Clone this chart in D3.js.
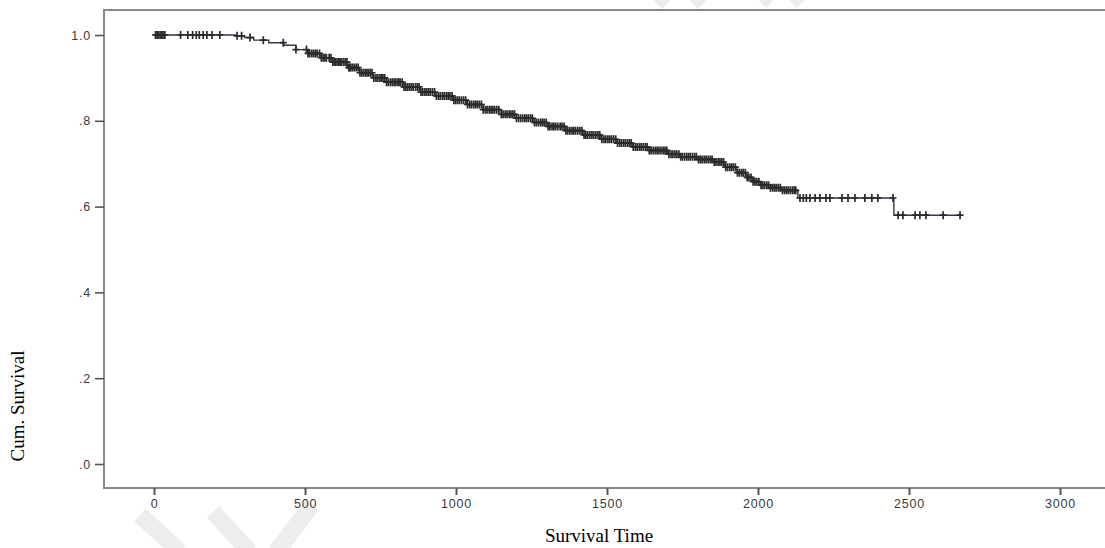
<!DOCTYPE html>
<html>
<head>
<meta charset="utf-8">
<script src="https://cdn.jsdelivr.net/npm/d3@7"></script>
<style>
  html, body { margin: 0; padding: 0; background: #fff; }
  #km-chart { width: 1105px; height: 548px; overflow: hidden; }
</style>
</head>
<body>
<div id="km-chart"></div>
<script>
// Kaplan-Meier step knots (time, cumulative survival)
const eventTimes = [0, 270, 300, 330, 380, 430, 470, 510, 550, 590, 640, 680, 725, 770, 824, 880,
  930, 990, 1036, 1090, 1150, 1200, 1255, 1300, 1360, 1420, 1480, 1530, 1586, 1640, 1700, 1741,
  1800, 1851, 1890, 1930, 1960, 1983, 2010, 2040, 2080, 2132, 2450];
const survival = [1.000, 0.998, 0.994, 0.988, 0.982, 0.976, 0.966, 0.957, 0.947, 0.937, 0.924, 0.912,
  0.900, 0.890, 0.879, 0.867, 0.858, 0.848, 0.838, 0.826, 0.815, 0.806, 0.796, 0.787, 0.777, 0.767,
  0.757, 0.748, 0.739, 0.731, 0.722, 0.716, 0.710, 0.704, 0.692, 0.679, 0.668, 0.658, 0.650, 0.644,
  0.638, 0.620, 0.580];

// censored observations (the "+" marks)
const censorTimes = [5, 10, 14, 20, 25, 30, 36, 88, 112, 128, 140, 150, 163, 175, 192, 218, 275, 290,
  318, 362, 428, 470,
  505, 515, 528, 540, 548, 560, 571, 580, 592, 600, 612, 620, 633, 645, 652, 664, 676, 688, 700, 710,
  722, 735, 748, 758, 770, 783, 795, 806, 815, 828, 840, 852, 866, 878, 890, 903, 915, 929, 942, 955,
  968, 980, 993, 1005, 1018, 1032, 1045, 1058, 1070, 1084, 1097, 1110, 1122, 1135, 1150, 1163, 1176,
  1188, 1200, 1214, 1228, 1240, 1253, 1266, 1280, 1292, 1305, 1318, 1330, 1345, 1358, 1370, 1384,
  1396, 1410, 1424, 1436, 1450, 1463, 1476, 1490, 1503, 1515, 1529, 1542, 1555, 1568, 1580, 1594,
  1607, 1620, 1633, 1646, 1660, 1672, 1686, 1698, 1712, 1725, 1738, 1750, 1764, 1776, 1790, 1803,
  1815, 1828, 1842, 1855, 1868, 1880, 1893, 1906, 1918, 1932, 1945, 1958, 1970, 1984, 1996, 2010,
  2022, 2035, 2048, 2060, 2074, 2088, 2100, 2114, 2125,
  2139, 2150, 2160, 2172, 2189, 2205, 2225, 2238, 2278, 2298, 2321, 2354, 2377, 2397, 2447,
  2464, 2480, 2520, 2536, 2556, 2613, 2669,
  // the thick middle band is packed with more censored cases
  510, 522, 534, 554, 566, 586, 597, 606, 616, 627, 639, 648, 658, 670, 682, 694, 705, 716, 728, 741,
  753, 764, 776, 789, 800, 811, 822, 834, 846, 858, 872, 884, 897, 909, 922, 935, 948, 961, 974, 987,
  999, 1011, 1025, 1038, 1051, 1064, 1077, 1090, 1103, 1116, 1128, 1142, 1156, 1169, 1182, 1194,
  1207, 1221, 1234, 1247, 1260, 1273, 1286, 1299, 1311, 1324, 1337, 1351, 1364, 1377, 1390, 1403,
  1417, 1430, 1443, 1456, 1470, 1483, 1496, 1509, 1522, 1535, 1548, 1561, 1574, 1587, 1600, 1613,
  1627, 1640, 1653, 1666, 1679, 1692, 1705, 1718, 1731, 1744, 1757, 1770, 1783, 1796, 1809, 1822,
  1835, 1848, 1861, 1874, 1886, 1899, 1912, 1925, 1938, 1951, 1964, 1977, 1990, 2003, 2016, 2029,
  2041, 2054, 2067, 2081, 2094, 2107, 2120];

const xTicks = [0, 500, 1000, 1500, 2000, 2500, 3000];
const yTicks = [0, 0.2, 0.4, 0.6, 0.8, 1.0];
const yTickLabels = [".0", ".2", ".4", ".6", ".8", "1.0"];

const width = 1105, height = 548;
const frame = { left: 104, top: 10, bottom: 488, right: 1110 };

const svg = d3.select("#km-chart").append("svg")
  .attr("width", width)
  .attr("height", height);

// faint watermark strokes seen in the original
const marks = [[[140, 515], [180, 552]], [[213, 512], [250, 552]], [[312, 505], [276, 552]],
  [[655, -6], [666, 5]], [[705, -6], [694, 5]], [[760, -6], [770, 4]], [[803, -6], [793, 4]]];
svg.selectAll("line.wm").data(marks).enter().append("line")
  .attr("class", "wm")
  .attr("x1", d => d[0][0]).attr("y1", d => d[0][1])
  .attr("x2", d => d[1][0]).attr("y2", d => d[1][1])
  .attr("stroke", "#ededed").attr("stroke-width", (d, i) => i < 3 ? 17 : 11);

const x = d3.scaleLinear().domain([0, 3000]).range([154, 1060]);
const y = d3.scaleLinear().domain([0, 1]).range([464, 35]);

// frame
svg.append("path")
  .attr("d", `M${frame.right},${frame.top}H${frame.left}V${frame.bottom}H${frame.right}`)
  .attr("fill", "none")
  .attr("stroke", "#8a8a8a")
  .attr("stroke-width", 2);

const tickFont = g => g.selectAll("text")
  .attr("font-family", "Liberation Sans, Arial, sans-serif")
  .attr("font-size", 12.5)
  .attr("letter-spacing", 0.8)
  .attr("fill", "#3a3a3a");

// axes
const xAxis = d3.axisBottom(x).tickValues(xTicks).tickSize(7).tickPadding(4)
  .tickFormat(d3.format("d"));
svg.append("g")
  .attr("transform", `translate(0,${frame.bottom})`)
  .call(xAxis)
  .call(g => g.select(".domain").remove())
  .call(g => g.selectAll("line").attr("stroke", "#555").attr("stroke-width", 2))
  .call(tickFont);

const yAxis = d3.axisLeft(y).tickValues(yTicks).tickSize(9).tickPadding(4)
  .tickFormat((d, i) => yTickLabels[i]);
svg.append("g")
  .attr("transform", `translate(${frame.left},0)`)
  .call(yAxis)
  .call(g => g.select(".domain").remove())
  .call(g => g.selectAll("line").attr("stroke", "#555").attr("stroke-width", 1.6))
  .call(tickFont);

// survival step curve
const lastT = d3.max(censorTimes);
const curveData = eventTimes.map((t, i) => ({ t, s: survival[i] }));
curveData.push({ t: lastT, s: survival[survival.length - 1] });

const line = d3.line()
  .x(d => x(d.t))
  .y(d => y(d.s))
  .curve(d3.curveStepAfter);

svg.append("path")
  .datum(curveData)
  .attr("d", line)
  .attr("fill", "none")
  .attr("stroke", "#34344a")
  .attr("stroke-width", 1.4);

// censor marks sit on the step value at their time
const bis = d3.bisector(d => d).right;
const censored = censorTimes.map(t => ({ t, s: survival[bis(eventTimes, t) - 1] }));

svg.append("g").selectAll("path.cen")
  .data(censored)
  .enter()
  .append("path")
  .attr("class", "cen")
  .attr("d", d => {
    const cx = x(d.t), cy = y(d.s);
    return `M${cx},${cy - 4}V${cy + 4}M${cx - 3.5},${cy}H${cx + 3.5}`;
  })
  .attr("stroke", "#2a2a2a")
  .attr("stroke-width", 1.7)
  .attr("fill", "none");

// axis titles
svg.append("text")
  .attr("x", 599)
  .attr("y", 542)
  .attr("text-anchor", "middle")
  .attr("font-family", "Liberation Serif, Times New Roman, serif")
  .attr("font-size", 19)
  .attr("fill", "#000")
  .text("Survival Time");

svg.append("text")
  .attr("transform", "translate(24,406) rotate(-90)")
  .attr("text-anchor", "middle")
  .attr("font-family", "Liberation Serif, Times New Roman, serif")
  .attr("font-size", 19)
  .attr("fill", "#000")
  .text("Cum. Survival");
</script>
</body>
</html>
